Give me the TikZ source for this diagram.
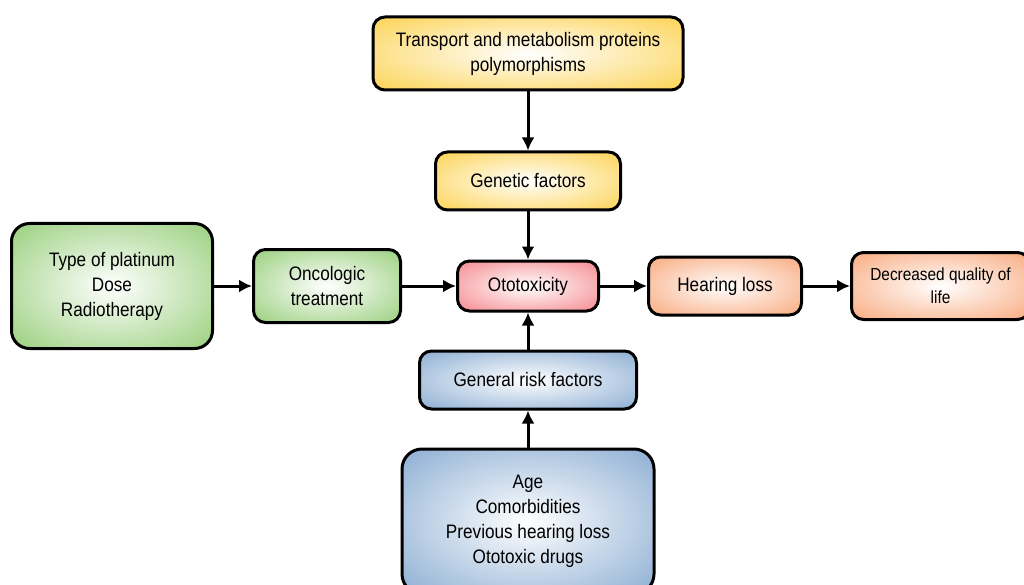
\documentclass[tikz,border=0pt]{standalone}
\usepackage{fontspec}
\setmainfont{Liberation Sans}[FakeStretch=0.88]
\usetikzlibrary{arrows.meta,positioning}
\definecolor{genc}{RGB}{252,208,72}
\definecolor{oncc}{RGB}{146,204,116}
\definecolor{otoc}{RGB}{244,128,134}
\definecolor{outc}{RGB}{248,164,118}
\definecolor{riskc}{RGB}{132,168,208}
\pgfdeclareradialshading{genglow}{\pgfpoint{0bp}{0bp}}{color(0bp)=(white);color(38bp)=(genc);color(100bp)=(genc)}
\pgfdeclareradialshading{oncglow}{\pgfpoint{0bp}{0bp}}{color(0bp)=(white);color(38bp)=(oncc);color(100bp)=(oncc)}
\pgfdeclareradialshading{otoglow}{\pgfpoint{0bp}{0bp}}{color(0bp)=(white);color(38bp)=(otoc);color(100bp)=(otoc)}
\pgfdeclareradialshading{outglow}{\pgfpoint{0bp}{0bp}}{color(0bp)=(white);color(38bp)=(outc);color(100bp)=(outc)}
\pgfdeclareradialshading{riskglow}{\pgfpoint{0bp}{0bp}}{color(0bp)=(white);color(38bp)=(riskc);color(100bp)=(riskc)}
\tikzset{box/.style={draw,line width=3pt,rounded corners=12pt,shade,align=center,font=\fontsize{19.5}{25}\selectfont},genbox/.style={box,shading=genglow},oncbox/.style={box,shading=oncglow},otobox/.style={box,shading=otoglow},outbox/.style={box,shading=outglow},riskbox/.style={box,shading=riskglow},edge/.style={-{Latex[length=13pt,width=13pt]},line width=3pt}}
\begin{document}
\begin{tikzpicture}[x=1pt,y=1pt,node distance=47pt]
\useasboundingbox (0,0) rectangle (1024,-585);
\node[otobox,minimum width=141pt,minimum height=50pt] (oto) at (528,-286) {Ototoxicity};
\node[genbox,above=48pt of oto,minimum width=185pt,minimum height=58pt] (gen) {Genetic factors};
\node[genbox,above=59pt of gen,minimum width=310pt,minimum height=73pt] (transp) {Transport and metabolism proteins\\polymorphisms};
\node[oncbox,left=54pt of oto,minimum width=147pt,minimum height=73pt] (onco) {Oncologic\\treatment};
\node[oncbox,left=38pt of onco,minimum width=201pt,minimum height=125pt,rounded corners=18pt] (plat) {Type of platinum\\Dose\\Radiotherapy};
\node[outbox,right=of oto,minimum width=153pt,minimum height=58pt] (hear) {Hearing loss};
\node[outbox,right=of hear,minimum width=178pt,minimum height=67pt,font=\fontsize{17.5}{23}\selectfont] (qol) {Decreased quality of\\life};
\node[riskbox,below=37pt of oto,minimum width=217pt,minimum height=58pt] (risk) {General risk factors};
\node[riskbox,below=37pt of risk,minimum width=252pt,minimum height=145pt,rounded corners=20pt] (age) {Age\\Comorbidities\\Previous hearing loss\\Ototoxic drugs};
\draw[edge] (transp) -- (gen);
\draw[edge] (gen) -- (oto);
\draw[edge] (plat) -- (onco);
\draw[edge] (onco) -- (oto);
\draw[edge] (oto) -- (hear);
\draw[edge] (hear) -- (qol);
\draw[edge] (risk) -- (oto);
\draw[edge] (age) -- (risk);
\end{tikzpicture}
\end{document}
